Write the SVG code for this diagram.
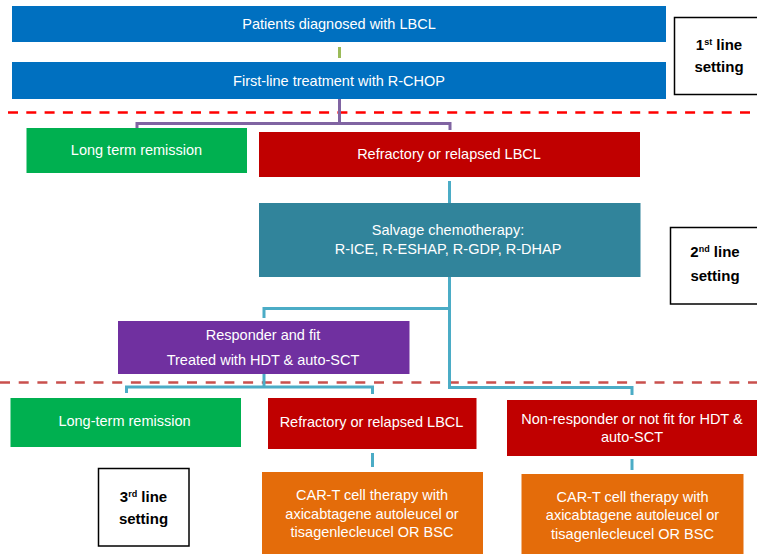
<svg xmlns="http://www.w3.org/2000/svg" width="757" height="554" viewBox="0 0 757 554">
<style>
.lbl{font-family:"Liberation Sans",Arial,sans-serif;font-size:14.5px;fill:#ffffff;text-anchor:middle}
.set{font-family:"Liberation Sans",Arial,sans-serif;font-size:15px;font-weight:bold;fill:#000000;text-anchor:middle}
.sup{font-size:9px}
.setbox{fill:#ffffff;stroke:#000000;stroke-width:1.5}
.conn{fill:none;stroke-width:3}
.blue{stroke:#4BACC6}
.purp{stroke:#8064A2}
.grn{stroke:#9BBB59}
.dash1{stroke:#FF0000;stroke-width:2.5;stroke-dasharray:10 8.3;fill:none}
.dash2{stroke:#C9504D;stroke-width:2.5;stroke-dasharray:10 8.7;fill:none}
</style>
<rect width="757" height="554" fill="#ffffff"/>
<g id="separators">
<line class="dash1" x1="8" y1="112.5" x2="757" y2="112.5"/>
<line class="dash2" x1="0" y1="382.5" x2="757" y2="382.5"/>
</g>
<g id="connectors">
<line class="conn grn" x1="339.5" y1="47" x2="339.5" y2="58"/>
<polyline class="conn purp" points="339.5,99 339.5,123.5"/>
<polyline class="conn purp" points="137,129 137,123.5 450,123.5 450,130"/>
<line class="conn blue" x1="449.5" y1="181" x2="449.5" y2="203"/>
<polyline class="conn blue" points="449.5,277 449.5,387.5 632,387.5 632,395"/>
<polyline class="conn blue" points="449.5,308.5 264,308.5 264,318"/>
<line class="conn blue" x1="264" y1="374" x2="264" y2="387"/>
<polyline class="conn blue" points="126.5,393 126.5,387 372.5,387 372.5,394"/>
<line class="conn blue" x1="372.5" y1="453" x2="372.5" y2="467"/>
<line class="conn blue" x1="632" y1="459" x2="632" y2="470"/>
</g>
<g id="n1">
<rect x="12" y="6" width="654" height="36" fill="#0070C0"/>
<text class="lbl" x="339" y="29">Patients diagnosed with LBCL</text>
</g>
<g id="n2">
<rect x="12" y="62" width="654" height="37" fill="#0070C0"/>
<text class="lbl" x="339" y="85.5">First-line treatment with R-CHOP</text>
</g>
<g id="setting1">
<rect class="setbox" x="674.5" y="17.5" width="90" height="77"/>
<text class="set" x="719" y="50">1<tspan class="sup" dy="-5">st</tspan><tspan dy="5"> line</tspan></text>
<text class="set" x="719" y="72">setting</text>
</g>
<g id="n3">
<rect x="26.5" y="128" width="220.5" height="45" fill="#00B050"/>
<text class="lbl" x="136.5" y="155">Long term remission</text>
</g>
<g id="n4">
<rect x="259" y="132" width="381" height="45" fill="#C00000"/>
<text class="lbl" x="449" y="158.5">Refractory or relapsed LBCL</text>
</g>
<g id="n5">
<rect x="259" y="203" width="381.5" height="74" fill="#31849B"/>
<text class="lbl" x="448" y="235">Salvage chemotherapy:</text>
<text class="lbl" x="448" y="254">R-ICE, R-ESHAP, R-GDP, R-DHAP</text>
</g>
<g id="setting2">
<rect class="setbox" x="670.5" y="227.5" width="94" height="76.5"/>
<text class="set" x="715" y="257">2<tspan class="sup" dy="-5">nd</tspan><tspan dy="5"> line</tspan></text>
<text class="set" x="715" y="281">setting</text>
</g>
<g id="n6">
<rect x="118" y="321" width="291.5" height="53" fill="#7030A0"/>
<text class="lbl" x="263" y="340">Responder and fit</text>
<text class="lbl" x="263" y="365">Treated with HDT &amp; auto-SCT</text>
</g>
<g id="n7">
<rect x="10.5" y="398" width="230.5" height="49" fill="#00B050"/>
<text class="lbl" x="124.5" y="426">Long-term remission</text>
</g>
<g id="n8">
<rect x="268" y="398" width="208.5" height="51" fill="#C00000"/>
<text class="lbl" x="371.5" y="426.5">Refractory or relapsed LBCL</text>
</g>
<g id="n9">
<rect x="507" y="400" width="260" height="56" fill="#C00000"/>
<text class="lbl" x="632" y="424">Non-responder or not fit for HDT &amp;</text>
<text class="lbl" x="632" y="442">auto-SCT</text>
</g>
<g id="n10">
<rect x="262" y="472" width="221" height="90" fill="#E46C0A"/>
<text class="lbl" x="372" y="500">CAR-T cell therapy with</text>
<text class="lbl" x="372" y="518.5">axicabtagene autoleucel or</text>
<text class="lbl" x="372" y="537">tisagenlecleucel OR BSC</text>
</g>
<g id="n11">
<rect x="521.5" y="474" width="222" height="90" fill="#E46C0A"/>
<text class="lbl" x="632.5" y="502">CAR-T cell therapy with</text>
<text class="lbl" x="632.5" y="520">axicabtagene autoleucel or</text>
<text class="lbl" x="632.5" y="538.5">tisagenlecleucel OR BSC</text>
</g>
<g id="setting3">
<rect class="setbox" x="98.5" y="468.5" width="90.5" height="77.5"/>
<text class="set" x="143.5" y="502">3<tspan class="sup" dy="-5">rd</tspan><tspan dy="5"> line</tspan></text>
<text class="set" x="143.5" y="524">setting</text>
</g>
</svg>
